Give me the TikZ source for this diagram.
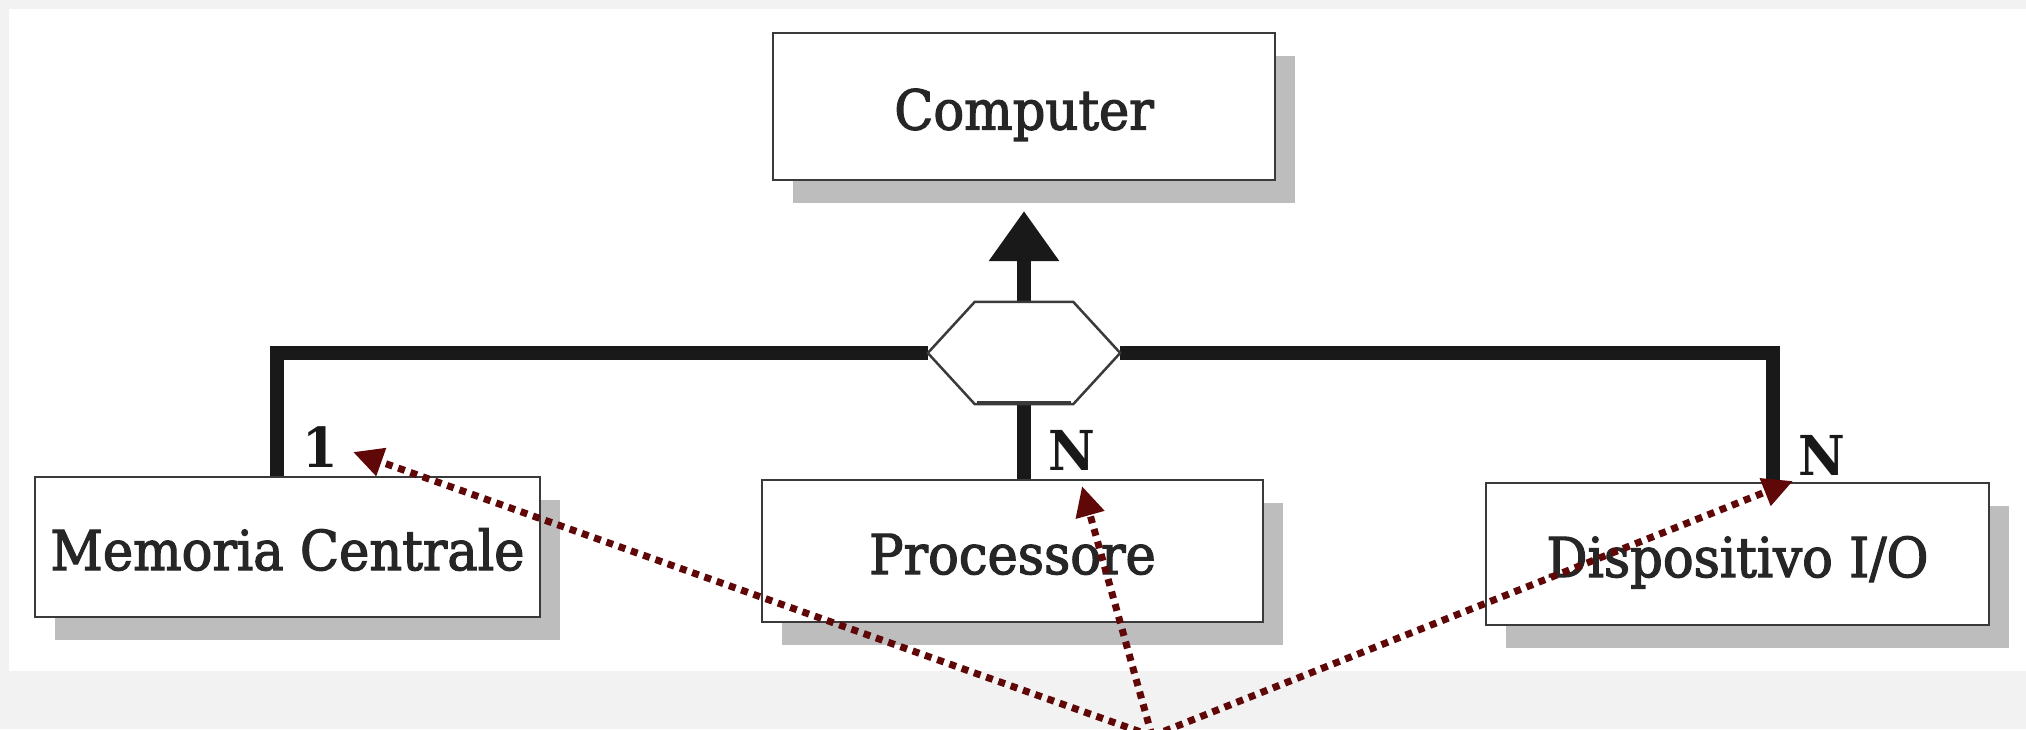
\documentclass[tikz,border=0pt]{standalone}
\usepackage{fontspec}
\setmainfont{DejaVu Serif}[FakeStretch=0.93]
\newfontfamily\boxfont{DejaVu Serif}[FakeStretch=0.93,FakeBold=2.2]
\usetikzlibrary{arrows.meta,shadows,calc}
\definecolor{pagegray}{HTML}{F2F2F2}
\definecolor{pointer}{RGB}{96,8,8}
\definecolor{inkgray}{HTML}{3A3A3A}
\begin{document}
\begin{tikzpicture}[x=1pt,y=-1pt,
  entity/.style={draw=inkgray, line width=2pt, fill=white, inner sep=0pt,
    minimum height=142pt, text height=46pt, text depth=0pt,
    font=\boxfont\fontsize{55}{60}\selectfont, text=black!85,
    drop shadow={shadow xshift=20pt, shadow yshift=-23pt, fill=black!26, opacity=1}},
  card/.style={font=\bfseries\fontsize{55}{60}\selectfont, text=black!90, inner sep=0pt},
  conn/.style={line width=14pt, black!90, line join=miter},
  hexline/.style={draw=inkgray, line width=2.5pt, fill=white},
  pointerarrow/.style={pointer, line width=7pt, dash pattern=on 7pt off 6pt,
    -{Triangle[length=30pt,width=28pt]}}
]
\useasboundingbox (0,0) rectangle (2026,729);
\clip (0,0) rectangle (2026,729);
% page and white sheet
\fill[pagegray] (0,0) rectangle (2026,729);
\fill[white] (9,9) rectangle (2026,671);

% entities
\node[entity, minimum width=502pt, minimum height=147pt] (comp) at (1024,106.5) {Computer};
\node[entity, minimum width=505pt, minimum height=140pt] (mem) at (287.5,547) {Memoria Centrale};
\node[entity, minimum width=501pt] (proc) at (1012.5,551) {Processore};
\node[entity, minimum width=503pt] (dev) at (1737.5,554) {Dispositivo I/O};

% aggregation hub
\node[minimum width=192pt, minimum height=102pt, inner sep=0pt] (hub) at (1024,353) {};

% thick connectors
\draw[conn] (hub.west) -| ([xshift=-10.5pt]mem.north);
\draw[conn] (hub.east) -| ([xshift=35.5pt]dev.north);
\draw[conn] (hub.south) -- (hub.south |- proc.north);
\draw[conn, -{Triangle[length=50pt,width=67pt]}] (hub.north) -- ([yshift=-30pt]comp.south);

% hexagon
\draw[hexline] (hub.west) -- ($(hub.north west)+(47,0)$) -- ($(hub.north east)+(-47,0)$)
  -- (hub.east) -- ($(hub.south east)+(-47,0)$) -- ($(hub.south west)+(47,0)$) -- cycle;
\draw[inkgray, line width=4pt] ($(hub.south west)+(49,-1)$) -- ($(hub.south east)+(-49,-1)$);

% cardinalities
\node[card, anchor=base west] (c1) at (302,467) {1};
\node[card, anchor=base west] (c2) at (1048,470) {N};
\node[card, anchor=base west] (c3) at (1798,475) {N};

% pointers
\coordinate (src) at (1152,736);
\coordinate (aim1) at (353,452);
\coordinate (aim2) at (1082,486);
\coordinate (aim3) at (1793,481);
\draw[pointerarrow] (src) -- (aim1);
\draw[pointerarrow] (src) -- (aim2);
\draw[pointerarrow] (src) -- (aim3);
\end{tikzpicture}
\end{document}
